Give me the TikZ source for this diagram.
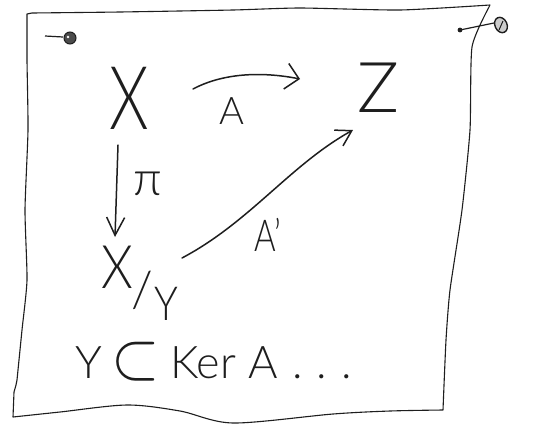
\documentclass[tikz,border=0pt]{standalone}
\usepackage{fontspec}
\setmainfont{Lato Light}
\usetikzlibrary{arrows.meta,calc}
\definecolor{ink}{RGB}{30,30,30}
\tikzset{
  inkline/.style={draw=ink, line width=1.5pt, line cap=round, line join=round},
  hand/.style={text=ink, inner sep=0pt, outer sep=0pt},
}
\begin{document}
\begin{tikzpicture}[x=1pt, y=-1pt]
\useasboundingbox (0,0) rectangle (538,426);
\fill[white] (0,0) rectangle (538,426);
% paper outline
\draw[draw=ink, line width=1.1pt, line join=round]
  plot[smooth, tension=0.35] coordinates {(32,13) (120,12) (233,10) (300,8) (400,10) (490,5)}
  -- plot[smooth, tension=0.35] coordinates {(489,7) (472,47) (470,130) (462,210) (450,290) (446,340) (443,410)}
  -- plot[smooth, tension=0.5] coordinates {(443,410) (390,411) (333,414) (233,423) (180,411) (127,405) (60,412) (13,417)}
  -- (14,392) -- (16,385)
  -- plot[smooth, tension=0.35] coordinates {(17,380) (22,330) (27,280) (25,210) (28,130) (27,60) (27,14)}
  -- cycle;
% pins
\draw[ink, line width=1.2pt] (45,36) -- (63,37);
\filldraw[draw=ink, fill=gray!60!black, line width=1pt] (70,38) circle (6);
\fill[white] (68,37) circle (1.3);
\fill[ink] (460,30) circle (2.4);
\draw[ink, line width=1.2pt] (460,30) -- (494,23);
\filldraw[draw=ink, fill=gray!40, line width=1.4pt, rotate around={25:(501,25)}] (501,25) ellipse (6 and 8);
\draw[ink, line width=1pt] (499,30) -- (503,21);
% nodes
\node[hand, font=\fontsize{88}{88}\selectfont] (X) at (129,98) {\scalebox{0.72}[1]{X}};
\node[hand, font=\fontsize{70}{70}\selectfont] (Z) at (378,88) {Z};
\node[hand] (XY) at (140,283) {\fontsize{60}{60}\selectfont\raisebox{15pt}{\scalebox{0.85}[1]{X}}\kern-2pt{\fontsize{50}{50}\selectfont\raisebox{-4pt}{/}}\kern1pt\raisebox{-17pt}{\fontsize{47}{47}\selectfont\scalebox{0.85}[1]{Y}}};
\node[hand, anchor=base west, font=\fontsize{45}{45}\selectfont] (rel) at (75,378) {Y\hspace{10pt}\scalebox{2.5}[2.7]{$\subset$}\hspace{10pt}Ker A\hspace{14pt}.\hspace{14pt}.\hspace{14pt}.};
% connectors
\draw[inkline, -{Straight Barb[length=13pt, width=26pt, line width=1.5pt]}] ($(X)+(64,-9)$) .. controls (225,72) and (265,72) .. ($(Z)+(-78,-9)$);
\draw[inkline, -{Straight Barb[length=18pt, width=18pt, line width=1.5pt]}] ($(X)+(-11,47)$) -- ($(XY)+(-25,-46)$);
\draw[inkline, -{Straight Barb[length=15pt, width=18pt, line width=1.5pt]}] ($(XY)+(42,-25)$) .. controls (250,222) and (290,165) .. ($(Z)+(-25,42)$);
% labels
\node[hand, font=\fontsize{38}{38}\selectfont] (lA) at (232,111) {A};
\node[hand, font=\fontsize{48}{48}\selectfont] (lpi) at (148,184) {π};
\node[hand, font=\fontsize{44}{44}\selectfont] (lAp) at (268,235) {\scalebox{0.75}[1]{A’}};
\end{tikzpicture}
\end{document}
